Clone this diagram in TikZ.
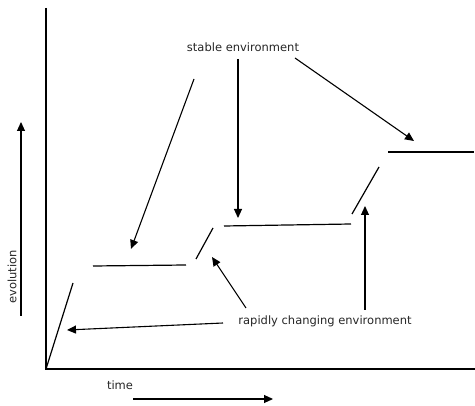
\documentclass[tikz,border=0pt]{standalone}
\usepackage{fontspec}
\setmainfont{DejaVu Sans}
\usetikzlibrary{arrows.meta}
\begin{document}
\begin{tikzpicture}[x=1pt,y=-1pt,
  axis/.style={line width=1.3pt},
  stepline/.style={line width=1.2pt},
  ptr/.style={line width=1.1pt,-{Triangle[length=9pt,width=8pt]}},
  lbl/.style={font=\fontsize{11.5}{13}\selectfont,inner sep=0pt,text=black!85}]
\useasboundingbox (0,0) rectangle (475,406);
% axes
\coordinate (top) at (46,8);
\coordinate (origin) at (46,369);
\coordinate (right) at (475,369);
\draw[axis] (top) -- (origin) -- (right);
% axis labels
\node[lbl,rotate=90] (evo) at (12,277) {evolution};
\coordinate (evoA) at (21,316);
\coordinate (evoB) at (21,122);
\draw[ptr] (evoA) -- (evoB);
\node[lbl] (time) at (120,385) {time};
\coordinate (timeA) at (133,399);
\coordinate (timeB) at (273,399);
\draw[ptr] (timeA) -- (timeB);
% steps
\coordinate (d1b) at (73,283);
\draw[stepline] (origin) -- (d1b);
\coordinate (h1a) at (93,266); \coordinate (h1b) at (186,265);
\draw[stepline] (h1a) -- (h1b);
\coordinate (d2a) at (196,259); \coordinate (d2b) at (213,228);
\draw[stepline] (d2a) -- (d2b);
\coordinate (h2a) at (224,226); \coordinate (h2b) at (351,224);
\draw[stepline] (h2a) -- (h2b);
\coordinate (d3a) at (352,214); \coordinate (d3b) at (379,167);
\draw[stepline] (d3a) -- (d3b);
\coordinate (h3a) at (388,152); \coordinate (h3b) at (474,152);
\draw[stepline] (h3a) -- (h3b);
% stable environment
\node[lbl] (stable) at (243,47) {stable environment};
\coordinate (s1a) at (194,79); \coordinate (s1b) at (131,249);
\draw[ptr] (s1a) -- (s1b);
\coordinate (s2a) at (238,59); \coordinate (s2b) at (238,218);
\draw[ptr] (s2a) -- (s2b);
\coordinate (s3a) at (295,58); \coordinate (s3b) at (414,141);
\draw[ptr] (s3a) -- (s3b);
% rapidly changing environment
\node[lbl] (rapid) at (325,321) {rapidly changing environment};
\coordinate (r1a) at (246,308); \coordinate (r1b) at (212,257);
\draw[ptr] (r1a) -- (r1b);
\coordinate (r2a) at (365,310); \coordinate (r2b) at (365,206);
\draw[ptr] (r2a) -- (r2b);
\coordinate (r3a) at (223,323); \coordinate (r3b) at (67,330);
\draw[ptr] (r3a) -- (r3b);
\end{tikzpicture}
\end{document}
